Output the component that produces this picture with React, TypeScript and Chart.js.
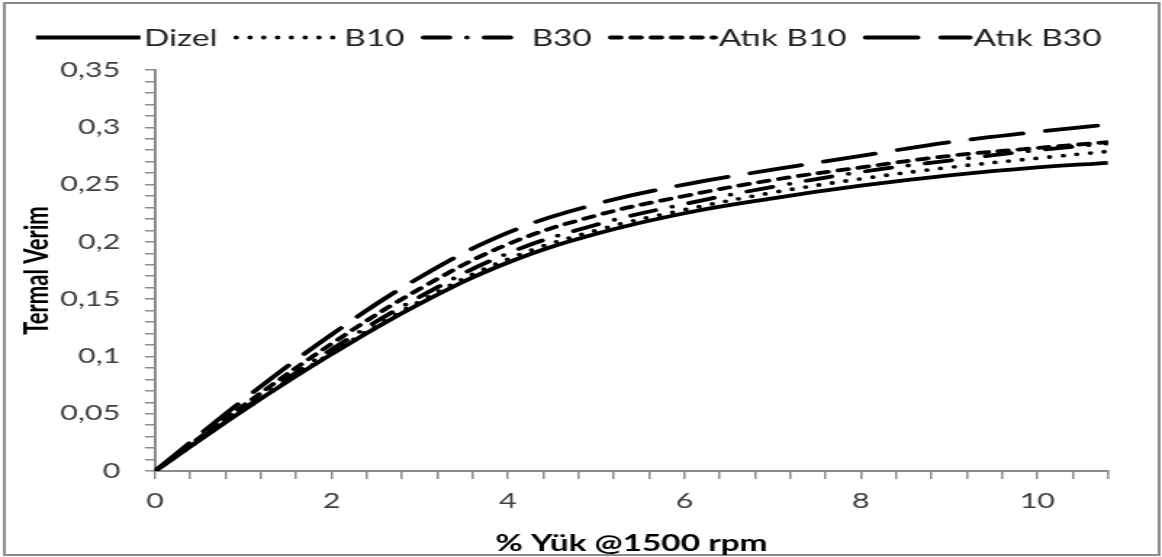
import React, { useEffect, useRef } from 'react';
import { Chart, registerables } from 'chart.js';

Chart.register(...registerables);

// ---- data ----
const loads = [0, 1, 2, 3, 4, 5, 6, 7, 8, 9, 10, 10.8];
const dizel = [0, 0.053, 0.102, 0.146, 0.182, 0.207, 0.225, 0.238, 0.249, 0.258, 0.265, 0.269];
const b10 = [0, 0.053, 0.103, 0.148, 0.185, 0.21, 0.228, 0.243, 0.255, 0.265, 0.273, 0.279];
const b30 = [0, 0.054, 0.106, 0.152, 0.19, 0.215, 0.233, 0.248, 0.261, 0.271, 0.28, 0.286];
const atikB10 = [0, 0.057, 0.111, 0.159, 0.198, 0.223, 0.24, 0.254, 0.265, 0.275, 0.282, 0.287];
const atikB30 = [0, 0.062, 0.119, 0.169, 0.208, 0.233, 0.25, 0.263, 0.275, 0.287, 0.296, 0.3025];

const seriesLabels = ['Dizel', 'B10', 'B30', 'Atık B10', 'Atık B30'];
const seriesValues = [dizel, b10, b30, atikB10, atikB30];

const xTitle = '% Yük @1500 rpm';
const yTitle = 'Termal Verim';
const xMax = 10.8;
const yMax = 0.35;

// ---- styles ----
const STRETCH = 1162 / 801; // the reference image is horizontally stretched
const CANVAS_W = 801;
const CANVAS_H = 557;
const dashes: number[][] = [[], [0, 9.5], [18, 12, 0, 12], [7, 7], [36, 16]];

const fmt = (v: number) => String(Math.round(v * 100) / 100).replace('.', ',');

const borderPlugin = {
  id: 'outerBorder',
  beforeDraw(chart: any) {
    const ctx = chart.ctx;
    ctx.save();
    ctx.fillStyle = '#ffffff';
    ctx.fillRect(0, 0, CANVAS_W, CANVAS_H);
    ctx.strokeStyle = '#8c8c8c';
    ctx.lineWidth = 2;
    ctx.strokeRect(3, 3, CANVAS_W - 5, CANVAS_H - 5);
    ctx.restore();
  },
};

const legendPlugin = {
  id: 'lineLegend',
  afterDraw(chart: any) {
    const ctx = chart.ctx;
    ctx.save();
    ctx.font = '23px Lato, "Open Sans", sans-serif';
    ctx.textBaseline = 'middle';
    let x = 36 / STRETCH;
    const y = 37.5;
    chart.data.datasets.forEach((ds: any) => {
      ctx.beginPath();
      ctx.setLineDash(ds.borderDash || []);
      ctx.lineCap = ds.borderCapStyle;
      ctx.lineWidth = ds.borderWidth;
      ctx.strokeStyle = ds.borderColor;
      ctx.moveTo(x, y);
      ctx.lineTo(x + 72, y);
      ctx.stroke();
      x += 72 + 2.5;
      ctx.setLineDash([]);
      ctx.fillStyle = '#222222';
      ctx.fillText(ds.label, x, y + 1);
      x += ctx.measureText(ds.label).width + 13;
    });
    ctx.restore();
  },
};

export default function App() {
  const ref = useRef<HTMLCanvasElement | null>(null);

  useEffect(() => {
    document.body.style.margin = '0';
    const canvas = ref.current;
    if (!canvas) return;
    const datasets = seriesLabels.map((label, i) => ({
      label,
      data: loads.map((x, j) => ({ x, y: seriesValues[i][j] })),
      borderColor: '#000000',
      backgroundColor: '#000000',
      borderWidth: 3.8,
      borderDash: dashes[i],
      borderCapStyle: i === 0 ? 'butt' : 'round',
      pointRadius: 0,
      tension: 0.4,
      fill: false,
    }));

    const chart = new Chart(canvas, {
      type: 'line',
      data: { datasets },
      plugins: [borderPlugin, legendPlugin],
      options: {
        responsive: false,
        animation: false,
        devicePixelRatio: 1,
        layout: { padding: { left: 0, top: 70, right: CANVAS_W - 1108 / STRETCH, bottom: 0 } },
        plugins: { legend: { display: false }, tooltip: { enabled: false } },
        scales: {
          x: {
            type: 'linear',
            min: 0,
            max: xMax,
            afterFit: (s: any) => { s.height = CANVAS_H - 471; },
            border: { display: true, color: '#8c8c8c', width: 2 },
            grid: { drawOnChartArea: false, drawTicks: true, tickLength: 8, color: '#8c8c8c', lineWidth: 1.5 },
            ticks: {
              stepSize: 0.4,
              autoSkip: false,
              maxRotation: 0,
              padding: 10,
              color: '#404040',
              font: { family: 'Lato, "Open Sans", sans-serif', size: 21 },
              callback: (v: any) => {
                const n = Number(v);
                return Math.abs(n / 2 - Math.round(n / 2)) < 1e-6 ? fmt(n) : '';
              },
            },
            title: {
              display: true,
              text: xTitle,
              color: '#000000',
              font: { family: 'Lato, "Open Sans", sans-serif', size: 23, weight: 'bold' },
              padding: { top: 0, bottom: 0 },
            },
          },
          y: {
            type: 'linear',
            min: 0,
            max: yMax,
            afterFit: (s: any) => { s.width = 155 / STRETCH; },
            border: { display: true, color: '#8c8c8c', width: 2 },
            grid: { drawOnChartArea: false, drawTicks: true, tickLength: 7, color: '#8c8c8c', lineWidth: 1.5 },
            ticks: {
              stepSize: 0.01,
              autoSkip: false,
              padding: 17,
              color: '#404040',
              font: { family: 'Lato, "Open Sans", sans-serif', size: 21 },
              callback: (v: any) => {
                const n = Number(v);
                return Math.abs(n / 0.05 - Math.round(n / 0.05)) < 1e-6 ? fmt(n) : '';
              },
            },
            title: {
              display: true,
              text: yTitle,
              color: '#000000',
              font: { family: 'Lato, "Open Sans", sans-serif', size: 22, weight: 'bold' },
              padding: { top: 13, bottom: 0 },
            },
          },
        },
      },
    } as any);
    return () => chart.destroy();
  }, []);

  return (
    <canvas
      ref={ref}
      width={CANVAS_W}
      height={CANVAS_H}
      style={{ width: '1162px', height: '557px', display: 'block' }}
    />
  );
}
